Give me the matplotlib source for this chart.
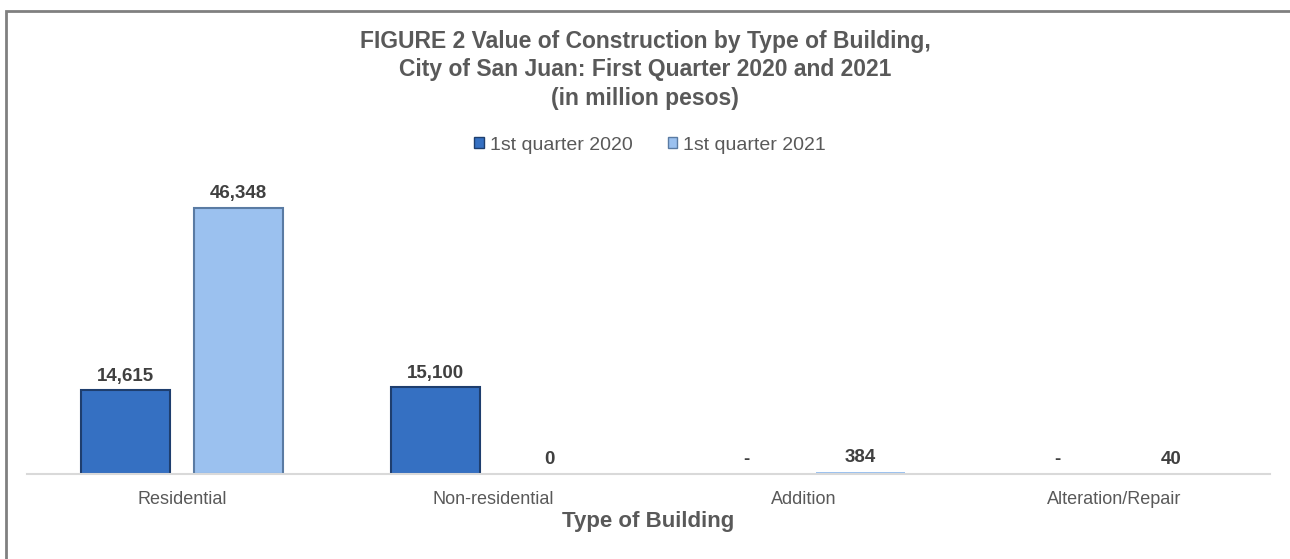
import numpy as np
import matplotlib.pyplot as plt
from matplotlib.patches import Rectangle

# data
categories = ["Residential", "Non-residential", "Addition", "Alteration/Repair"]
series_names = ["1st quarter 2020", "1st quarter 2021"]
q1_2020 = [14615, 15100, 0, 0]
q1_2021 = [46348, 0, 384, 40]
labels_2020 = ["14,615", "15,100", "-", "-"]
labels_2021 = ["46,348", "0", "384", "40"]

plt.rcParams["font.family"] = ["Liberation Sans", "DejaVu Sans"]

W, H = 1290, 559
fig = plt.figure(figsize=(W / 100, H / 100), dpi=100)
ax = fig.add_axes([26.5 / W, 85 / H, (1270 - 26.5) / W, 287 / H])

x = np.arange(len(categories))
width = 0.286
offset = 0.183
colors = ["#3570C2", "#9BC1EF"]
edges = ["#1E3E6E", "#5A7BA3"]

for vals, labs, sign, fc, ec in [(q1_2020, labels_2020, -1, colors[0], edges[0]),
                                 (q1_2021, labels_2021, 1, colors[1], edges[1])]:
    bars = ax.bar(x + sign * offset, vals, width, color=fc, edgecolor=ec, linewidth=1.5)
    for b, v, lab in zip(bars, vals, labs):
        # tiny bars hardly show in the original
        if v < 1000:
            b.set_linewidth(0)
        ax.annotate(lab, (b.get_x() + b.get_width() / 2, b.get_height()),
                    xytext=(0, 4), textcoords="offset points", ha="center", va="bottom",
                    fontsize=13.5, fontweight="bold", color="#404040")

ax.set_xlim(-0.5, len(categories) - 0.5)
ax.set_ylim(0, 50000)
ax.set_xticks(x)
ax.set_xticklabels(categories, fontsize=13, color="#595959")
ax.tick_params(axis="x", length=0, pad=12)
ax.set_yticks([])
for s in ["top", "right", "left"]:
    ax.spines[s].set_visible(False)
ax.spines["bottom"].set_color("#D9D9D9")
ax.spines["bottom"].set_linewidth(1.5)

# legend
handles = [Rectangle((0, 0), 1, 1, facecolor=c, edgecolor=e) for c, e in zip(colors, edges)]
fig.legend(handles, series_names, loc="center", bbox_to_anchor=(650 / W, 1 - 145 / H),
           ncol=2, frameon=False, fontsize=14, handlelength=0.5, handleheight=0.5,
           handletextpad=0.3, columnspacing=1.8, labelcolor="#595959")

fig.text(645 / W, 1 - 30 / H,
         "FIGURE 2 Value of Construction by Type of Building,\n"
         "City of San Juan: First Quarter 2020 and 2021\n(in million pesos)",
         ha="center", va="top", fontsize=16.5, fontweight="bold", color="#595959",
         linespacing=1.3)
fig.text(648 / W, 1 - 521 / H, "Type of Building", ha="center", va="center",
         fontsize=16, fontweight="bold", color="#595959")

# outer border
fig.add_artist(Rectangle((6 / W, -0.05), 1.2, 1 - 11 / H + 0.05, transform=fig.transFigure,
                         fill=False, edgecolor="#808080", linewidth=2))

fig.savefig("out.png", dpi=100)
